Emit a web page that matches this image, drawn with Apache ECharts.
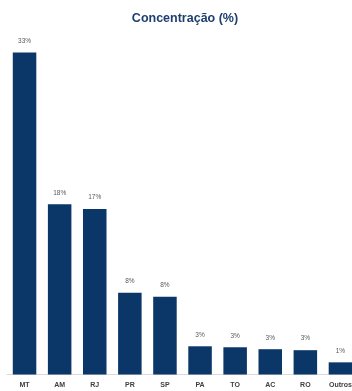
<!DOCTYPE html>
<html><head><meta charset="utf-8">
<script src="https://cdn.jsdelivr.net/npm/echarts@6/dist/echarts.min.js"></script>
<style>html,body{margin:0;padding:0;background:#fff}#c{width:352px;height:391px}</style>
</head><body><div id="c"></div>
<script>
const categories = ["MT","AM","RJ","PR","SP","PA","TO","AC","RO","Outros"];
const values = [33.1,17.5,17.0,8.4,8.0,2.9,2.8,2.6,2.5,1.25];
const titleText = "Concentração (%)";

const chart = echarts.init(document.getElementById('c'), null, {renderer:'canvas'});
chart.setOption({
  animation:false,
  title:{text:titleText,left:180,top:7,textAlign:'center',
    textStyle:{fontFamily:'Liberation Sans',fontWeight:'bold',fontSize:12.5,color:'#1f3f6f'}},
  grid:{left:7,width:351,top:34,bottom:16.5,containLabel:false,outerBoundsMode:'none'},
  xAxis:{type:'category',data:categories,
    axisLine:{lineStyle:{color:'#d9d9d9',width:1}},
    axisTick:{show:false},
    axisLabel:{interval:0,margin:7,fontFamily:'Liberation Sans',fontWeight:'bold',fontSize:7,color:'#404040'}},
  yAxis:{type:'value',min:0,max:35,show:false,splitLine:{show:false}},
  series:[{type:'bar',data:values,barCategoryGap:'33%',
    itemStyle:{color:'#0b3768'},
    label:{show:true,position:'top',distance:8,fontFamily:'Liberation Sans',fontSize:6.5,color:'#595959',
      formatter:p=>Math.round(p.value)+'%'}}]
});
</script></body></html>
